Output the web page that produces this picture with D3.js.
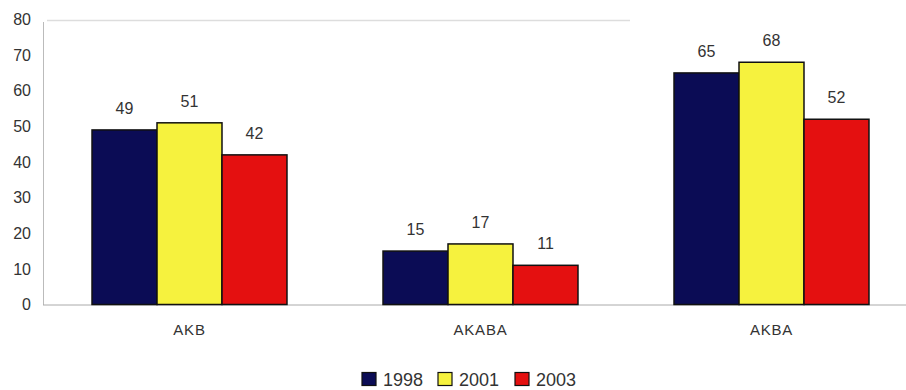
<!DOCTYPE html>
<html><head><meta charset="utf-8">
<script src="https://cdn.jsdelivr.net/npm/d3@7"></script>
<style>body{margin:0;background:#fff}svg{display:block}text{font-family:"Liberation Sans",Arial,sans-serif}</style>
</head><body><svg id="c" width="906" height="390"></svg>
<script>
const categories = ["AKB", "AKABA", "AKBA"];
const years = ["1998", "2001", "2003"];
const v1998 = [49, 15, 65];
const v2001 = [51, 17, 68];
const v2003 = [42, 11, 52];
const yTicks = [0, 10, 20, 30, 40, 50, 60, 70, 80];
const colors = ["#0b0c55", "#f6f23e", "#e41010"];

const series = [v1998, v2001, v2003];
const svg = d3.select("#c");
const y = d3.scaleLinear().domain([0, 80]).range([304.5, 19.5]);
const x = d3.scaleBand().domain(categories).range([44, 917]).paddingInner(0.33).paddingOuter(0.165);
const xs = d3.scaleBand().domain(years).range([0, x.bandwidth()]);

// frame lines
svg.append("line").attr("x1",43.5).attr("x2",43.5).attr("y1",22).attr("y2",305).attr("stroke","#bbb").attr("stroke-width",1);
svg.append("line").attr("x1",47).attr("x2",630).attr("y1",20.5).attr("y2",20.5).attr("stroke","#ddd").attr("stroke-width",1.5);
svg.append("line").attr("x1",43).attr("x2",906).attr("y1",y(0)+0.5).attr("y2",y(0)+0.5).attr("stroke","#aaa").attr("stroke-width",1);

// y axis labels
const yAxis = d3.axisLeft(y).tickValues(yTicks).tickSize(0).tickPadding(13);
const ga = svg.append("g").attr("transform","translate(44,0)").call(yAxis);
ga.select(".domain").remove();
ga.selectAll("text").attr("font-size",16).attr("fill","#333").style("font-family","Liberation Sans, Arial, sans-serif");

// x axis labels
const xAxis = d3.axisBottom(x).tickSize(0);
const gx = svg.append("g").attr("transform",`translate(0,${y(0)})`).call(xAxis);
gx.select(".domain").remove();
gx.selectAll("text").attr("y", 30.5).attr("dy", 0).attr("font-size",15).attr("letter-spacing", 0.8).attr("fill","#333").style("font-family","Liberation Sans, Arial, sans-serif");

// bars
categories.forEach((c, i) => {
  const g = svg.append("g").attr("transform",`translate(${x(c)},0)`);
  years.forEach((yr, j) => {
    const val = series[j][i];
    g.append("rect").attr("x", xs(yr)).attr("y", y(val)).attr("width", xs.bandwidth()).attr("height", y(0)-y(val))
      .attr("fill", colors[j]).attr("stroke","#111").attr("stroke-width",1.5);
    g.append("text").attr("x", xs(yr)+xs.bandwidth()/2).attr("y", y(val)-16).attr("text-anchor","middle")
      .attr("font-size",16).attr("fill","#333").text(val);
  });
});

// legend
const legX = [362, 438, 515];
const leg = svg.append("g");
years.forEach((yr, j) => {
  leg.append("rect").attr("x", legX[j]).attr("y", 372.5).attr("width", 14).attr("height", 13)
    .attr("fill", colors[j]).attr("stroke","#111").attr("stroke-width",1.2);
  leg.append("text").attr("x", legX[j]+21).attr("y", 385.5).attr("font-size",18).attr("fill","#333").text(yr);
});
</script></body></html>
